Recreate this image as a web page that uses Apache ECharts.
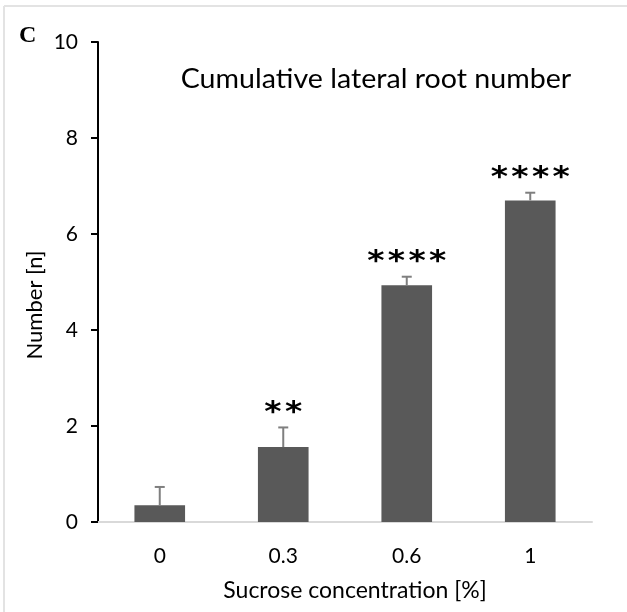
<!DOCTYPE html>
<html>
<head>
<meta charset="utf-8">
<script src="https://cdn.jsdelivr.net/npm/echarts@6/dist/echarts.min.js"></script>
<style>
  html, body { margin: 0; padding: 0; background: #fff; }
  #chart { width: 627px; height: 612px; }
</style>
</head>
<body>
<div id="chart"></div>
<script>
// chart data //
const categories = ['0', '0.3', '0.6', '1']
const means = [0.35, 1.56, 4.93, 6.70]
const errors = [0.38, 0.41, 0.18, 0.16]
const stars = ['', '**', '****', '****']

const yTicks = { min: 0, max: 10, interval: 2 }

const font = 'Lato, "Open Sans", sans-serif'

const chart = echarts.init(document.getElementById('chart'), null, { renderer: 'canvas' })

// error bar + significance marks, drawn through the axis scale //
const errorBars = (params, api) => {
  const i = api.value(0)
  const mean = api.value(1)
  const err = api.value(2)
  const base = api.coord([i, mean])
  const top = api.coord([i, mean + err])
  const cap = 5
  const style = { stroke: '#7f7f7f', lineWidth: 2 }
  return {
    type: 'group',
    children: [
      { type: 'line', shape: { x1: base[0], y1: base[1], x2: top[0], y2: top[1] }, style },
      { type: 'line', shape: { x1: top[0] - cap, y1: top[1], x2: top[0] + cap, y2: top[1] }, style },
      {
        type: 'text',
        x: top[0],
        y: top[1] - 14,
        scaleY: 0.85,
        style: {
          // hair spaces keep the marks slightly apart
          text: stars[i].split('').join('\u200A'),
          align: 'center',
          verticalAlign: 'middle',
          font: 'bold 33px "DejaVu Sans", sans-serif',
          fill: '#000'
        }
      }
    ]
  }
}

chart.setOption({
  animation: false,
  backgroundColor: '#fff',
  grid: { left: 98, right: 35, top: 42, bottom: 90 },
  xAxis: {
    type: 'category',
    data: categories,
    axisLine: { lineStyle: { color: '#d9d9d9', width: 2 } },
    axisTick: { show: false },
    axisLabel: { color: '#000', fontSize: 21, fontFamily: font, margin: 24 }
  },
  yAxis: {
    type: 'value',
    min: yTicks.min,
    max: yTicks.max,
    interval: yTicks.interval,
    axisLine: { show: true, lineStyle: { color: '#000', width: 2 } },
    axisTick: { show: true, length: 7, lineStyle: { color: '#000', width: 2 } },
    splitLine: { show: false },
    axisLabel: { color: '#000', fontSize: 21, fontFamily: font, margin: 20 }
  },
  graphic: [
    // faint frame of the original panel
    { type: 'line', shape: { x1: 4, y1: 6, x2: 627, y2: 6 }, style: { stroke: '#e3e3e3', lineWidth: 2 } },
    { type: 'line', shape: { x1: 4, y1: 6, x2: 4, y2: 612 }, style: { stroke: '#e3e3e3', lineWidth: 2 } },
    {
      type: 'text', left: 19, top: 24,
      style: { text: 'C', font: 'bold 24px "Liberation Serif", serif', fill: '#000' }
    },
    {
      type: 'text', x: 376, y: 80, scaleX: 1.1,
      style: { text: 'Cumulative lateral root number', font: '26px ' + font, fill: '#000', align: 'center', verticalAlign: 'middle' }
    },
    {
      type: 'text', x: 355, y: 591,
      style: { text: 'Sucrose concentration [%]', font: '23px ' + font, fill: '#000', align: 'center', verticalAlign: 'middle' }
    },
    {
      type: 'text', x: 35, y: 305, rotation: Math.PI / 2,
      style: { text: 'Number [n]', font: '22px ' + font, fill: '#000', align: 'center', verticalAlign: 'middle' }
    }
  ],
  series: [
    {
      type: 'bar',
      data: means,
      barWidth: '41%',
      itemStyle: { color: '#595959' },
      silent: true
    },
    {
      type: 'custom',
      renderItem: errorBars,
      data: means.map((m, i) => [i, m, errors[i]]),
      z: 3,
      silent: true
    }
  ]
})
</script>
</body>
</html>
